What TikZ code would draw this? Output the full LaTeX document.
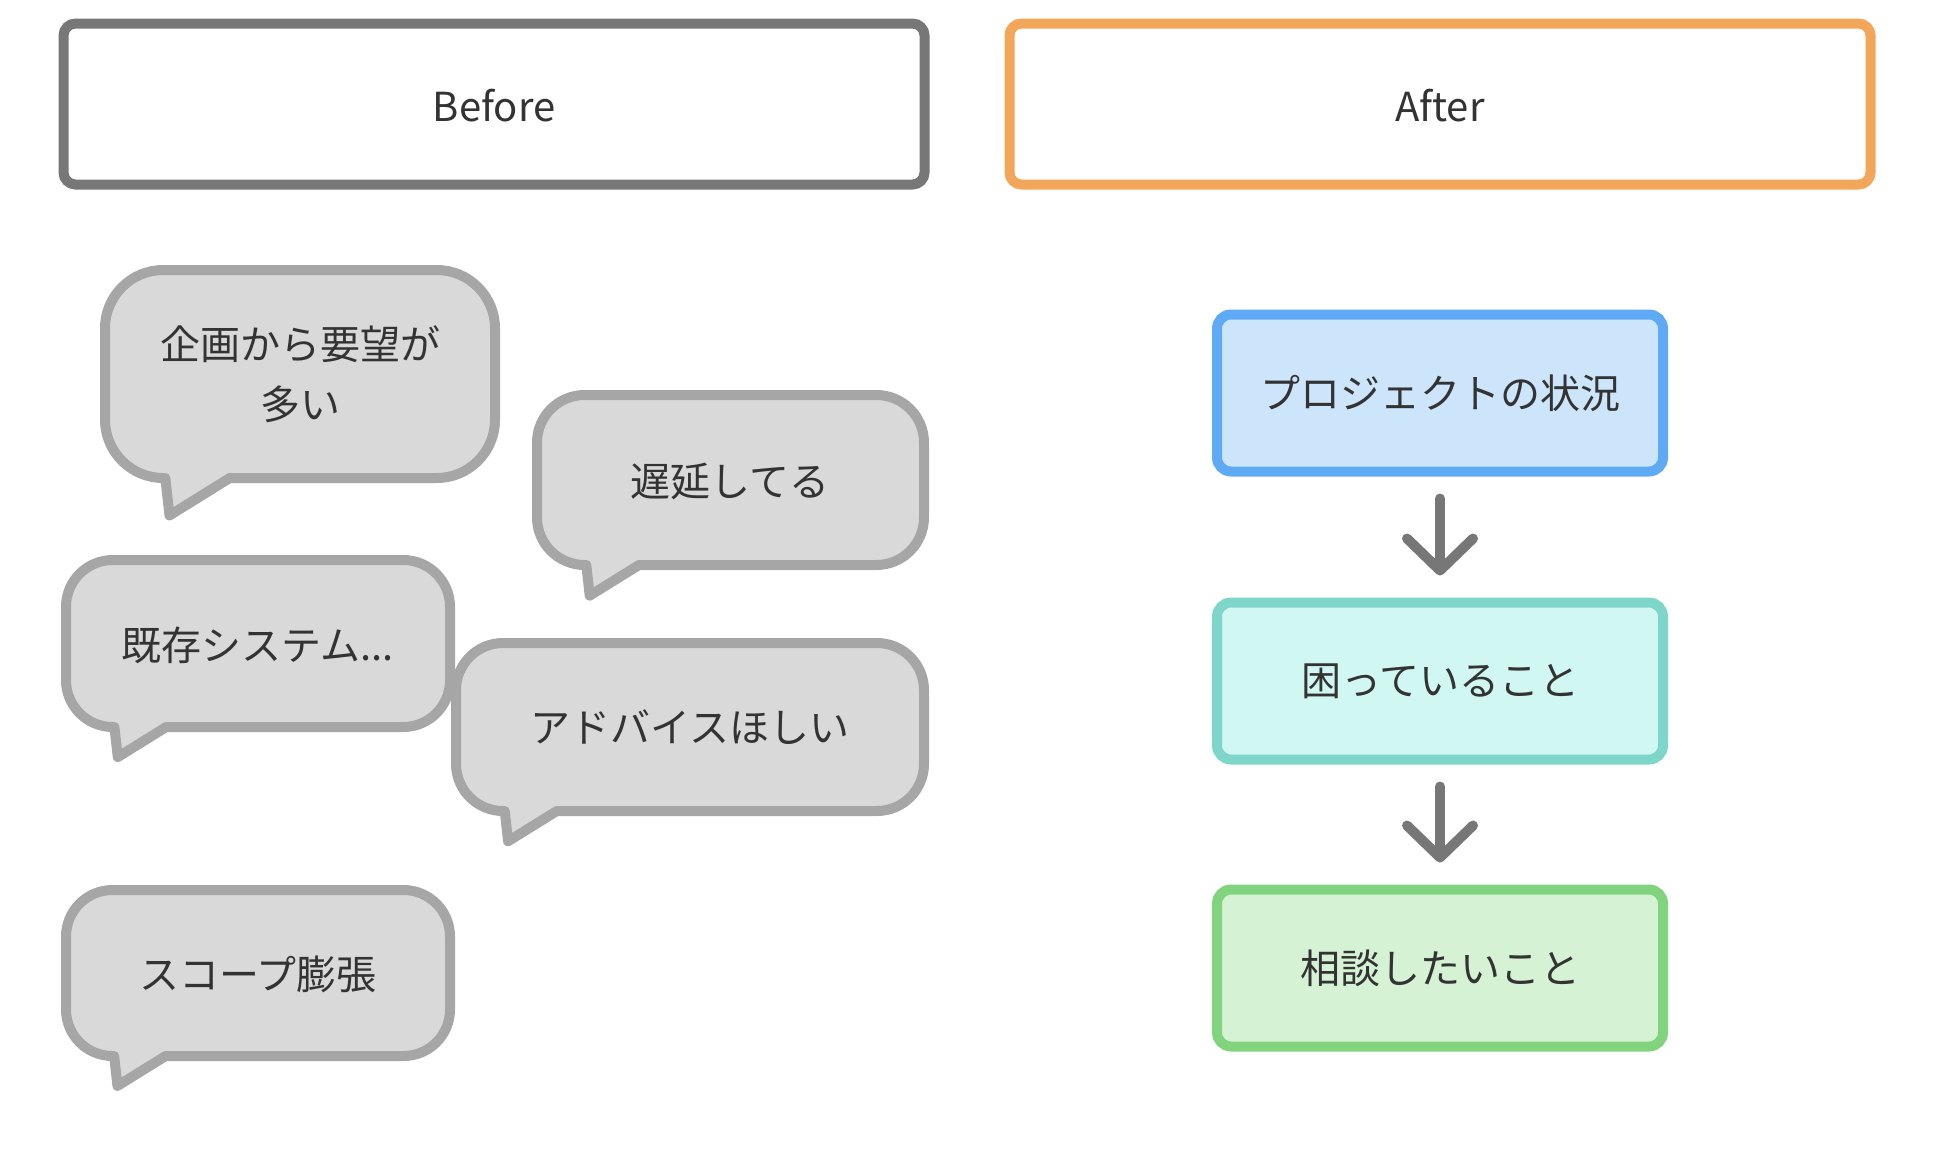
\documentclass[tikz,border=0pt]{standalone}
\usepackage{fontspec}
\setmainfont{Noto Sans CJK JP}
\usetikzlibrary{arrows.meta}
\definecolor{txt}{HTML}{333333}
\definecolor{hdrgray}{HTML}{777777}
\definecolor{hdrorange}{HTML}{F2A65A}
\definecolor{bubfill}{HTML}{D9D9D9}
\definecolor{bubline}{HTML}{A6A6A6}
\definecolor{bluefill}{HTML}{CCE5FB}
\definecolor{blueline}{HTML}{5FAAF5}
\definecolor{tealfill}{HTML}{D1F7F3}
\definecolor{tealline}{HTML}{7ED6CA}
\definecolor{greenfill}{HTML}{D5F2D5}
\definecolor{greenline}{HTML}{82D37E}
\definecolor{arrgray}{HTML}{777777}
\newcommand\bubbleshape[4]{%
  \pgfmathsetmacro\bh{#4-#2}%
  \pgfmathsetmacro\bR{0.28*\bh}%
  \pgfmathsetmacro\bk{0.448*\bR}%
  \filldraw[bubble] ({#1+\bR},#2) -- ({#3-\bR},#2)
    .. controls ({#3-\bk},#2) and (#3,{#2+\bk}) .. (#3,{#2+\bR})
    -- (#3,{#4-\bR})
    .. controls (#3,{#4-\bk}) and ({#3-\bk},#4) .. ({#3-\bR},#4)
    -- ({#1+0.6*\bh},#4)
    -- ({#1+0.31*\bh},{#4+0.18*\bh})
    -- ({#1+0.29*\bh},#4)
    -- ({#1+\bR},#4)
    .. controls ({#1+\bk},#4) and (#1,{#4-\bk}) .. (#1,{#4-\bR})
    -- (#1,{#2+\bR})
    .. controls (#1,{#2+\bk}) and ({#1+\bk},#2) .. cycle;%
}
\begin{document}
\begin{tikzpicture}[x=1pt,y=-1pt,
  every node/.style={text=txt},
  big/.style={font=\fontsize{40}{60}\selectfont},
  header/.style={draw, line width=10pt, rounded corners=12pt, fill=white,
    minimum width=861pt, minimum height=161pt, inner sep=0pt, big,
    text height=35pt, text depth=0pt},
  bubble/.style={line width=10pt, line join=round, draw=bubline, fill=bubfill},
  btext/.style={align=center, inner sep=0pt, big},
  stepbox/.style={draw, line width=10pt, rounded corners=14pt,
    minimum width=446pt, minimum height=157pt, inner sep=0pt, big},
  arr/.style={draw=arrgray, line width=10pt, line cap=round,
    -{Straight Barb[length=32pt, width=66pt, round]}}
]
\useasboundingbox (0,0) rectangle (1936,1152);

\node[header, draw=hdrgray] (before) at (494,104) {Before};
\node[header, draw=hdrorange] (after) at (1440,104) {After};

\bubbleshape{105}{270}{495}{478}
\node[btext] (t1) at (300,374) {企画から要望が\\多い};
\bubbleshape{537}{395}{924}{565}
\node[btext] (t2) at (730,481) {遅延してる};
\bubbleshape{66}{560}{450}{727}
\node[btext] (t3) at (258,645) {既存システム...};
\bubbleshape{456}{643}{924}{811}
\node[btext] (t4) at (690,727) {アドバイスほしい};
\bubbleshape{66}{890}{450}{1056}
\node[btext] (t5) at (258,974) {スコープ膨張};

\node[stepbox, draw=blueline, fill=bluefill] (p1) at (1440,393) {プロジェクトの状況};
\node[stepbox, draw=tealline, fill=tealfill] (p2) at (1440,681) {困っていること};
\node[stepbox, draw=greenline, fill=greenfill] (p3) at (1440,968) {相談したいこと};

\draw[arr] ([yshift=-22pt]p1.south) -- ([yshift=22pt]p2.north);
\draw[arr] ([yshift=-22pt]p2.south) -- ([yshift=22pt]p3.north);
\end{tikzpicture}
\end{document}
